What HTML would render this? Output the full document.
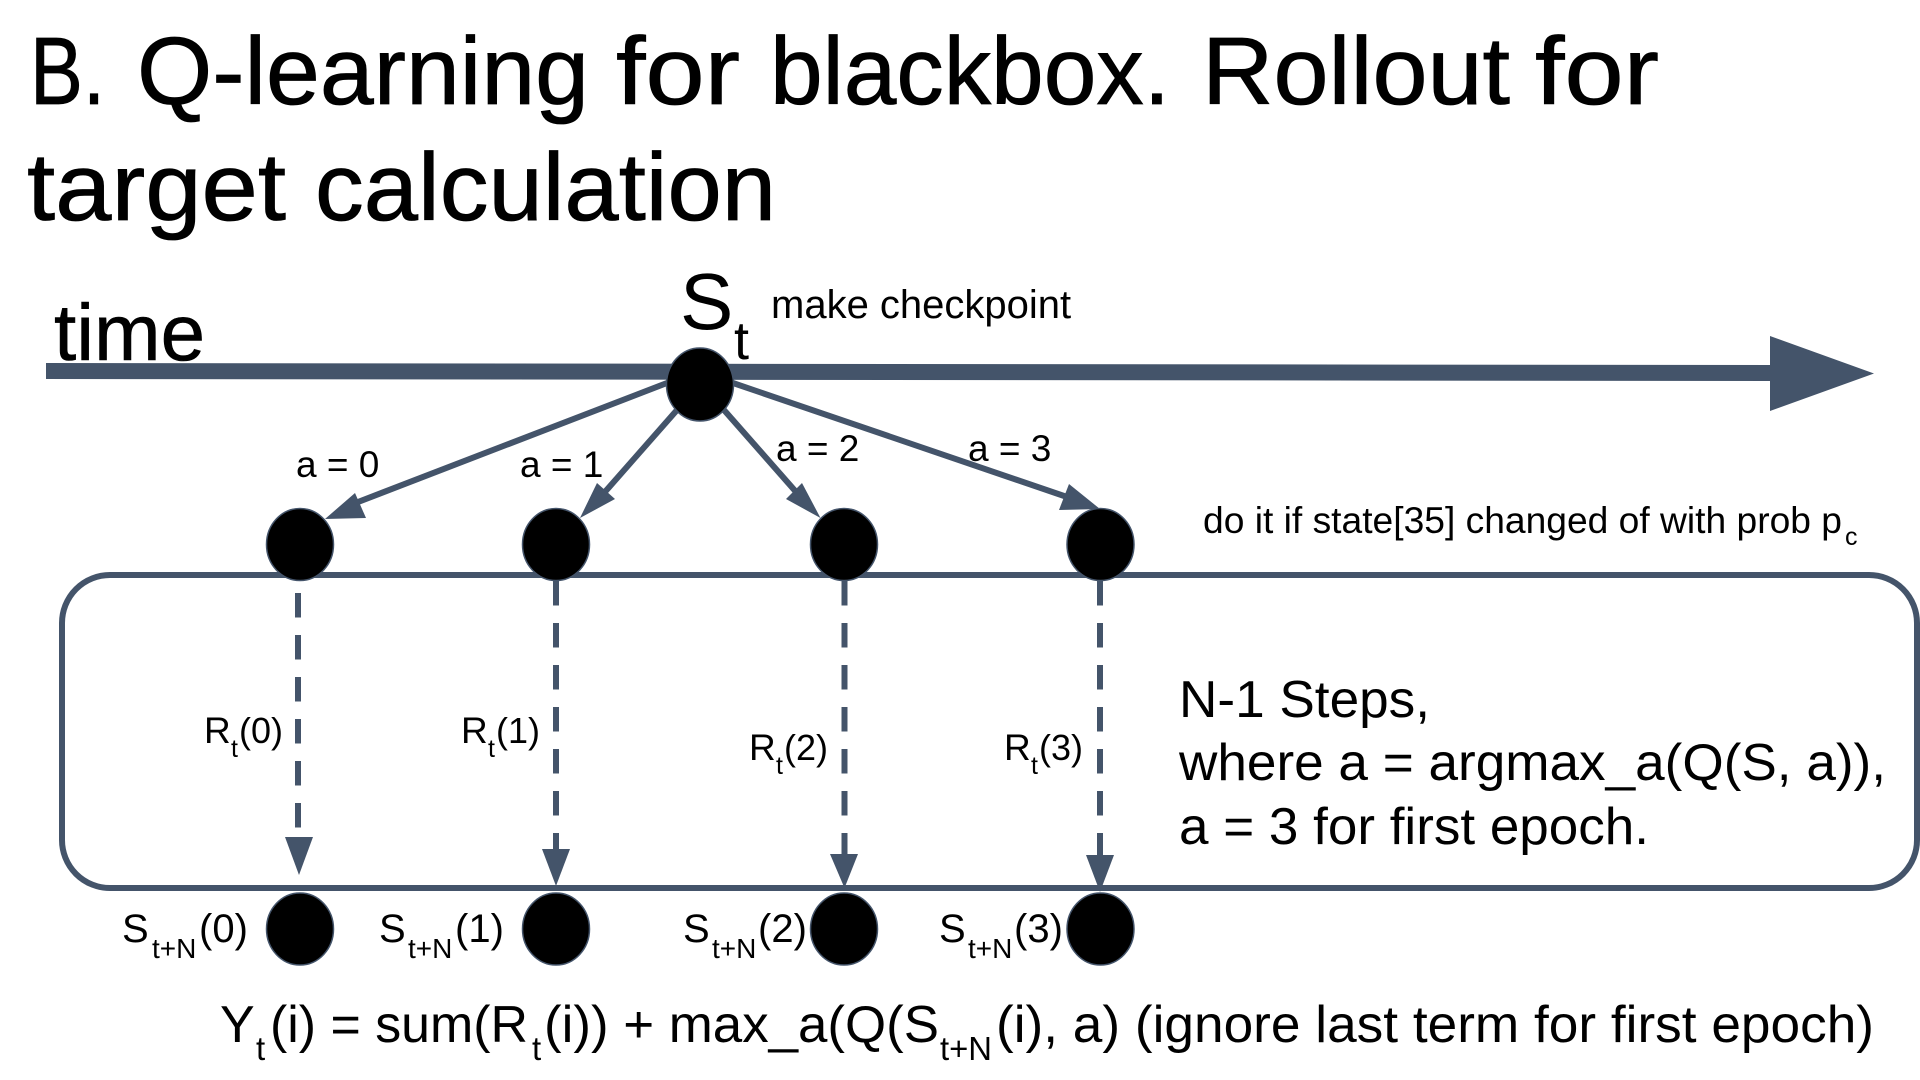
<!DOCTYPE html>
<html>
<head>
<meta charset="utf-8">
<style>
html,body{margin:0;padding:0;background:#fff;width:1920px;height:1080px;overflow:hidden}
svg{display:block}
text{font-family:"Liberation Sans",Arial,sans-serif;fill:#000}
.t{font-size:96px;stroke:#000;stroke-width:.8px}
.s36{font-size:37px}.s40{font-size:40px}.s52{font-size:52px}
.sub24{font-size:25px}.sub26{font-size:28px}.sub32{font-size:33px}
</style>
</head>
<body>
<svg width="1920" height="1080" viewBox="0 0 1920 1080" xmlns="http://www.w3.org/2000/svg">
<rect width="1920" height="1080" fill="#fff"/>

<!-- title -->
<text class="t" x="30" y="104" textLength="75" lengthAdjust="spacingAndGlyphs">B.</text>
<text class="t" x="137" y="104" textLength="452" lengthAdjust="spacingAndGlyphs">Q-learning</text>
<text class="t" x="616" y="104" textLength="124" lengthAdjust="spacingAndGlyphs">for</text>
<text class="t" x="770" y="104" textLength="400" lengthAdjust="spacingAndGlyphs">blackbox.</text>
<text class="t" x="1202" y="104" textLength="308" lengthAdjust="spacingAndGlyphs">Rollout</text>
<text class="t" x="1535" y="104" textLength="124" lengthAdjust="spacingAndGlyphs">for</text>
<text class="t" x="27" y="220" textLength="259" lengthAdjust="spacingAndGlyphs">target</text>
<text class="t" x="315" y="220" textLength="461" lengthAdjust="spacingAndGlyphs">calculation</text>

<!-- rounded box -->
<rect x="62" y="575" width="1855" height="313" rx="48" ry="48" fill="none" stroke="#44546a" stroke-width="6"/>

<!-- timeline -->
<polygon points="46,363 1770,365 1770,336 1874,373.5 1770,411 1770,381 46,379" fill="#44546a"/>

<!-- action arrows -->
<g stroke="#44546a" stroke-width="6" fill="none">
<line x1="667" y1="383" x2="345" y2="507"/>
<line x1="677" y1="410" x2="604" y2="493"/>
<line x1="724" y1="410" x2="797" y2="493"/>
<line x1="733" y1="383" x2="1070" y2="498"/>
</g>
<g fill="#44546a">
<polygon points="325,519 355,493 366,518"/>
<polygon points="580,518 597,483 615,499"/>
<polygon points="820.5,518 802,483 786,499"/>
<polygon points="1100,509 1069,484 1059,510"/>
</g>

<!-- dashed arrows -->
<g stroke="#44546a" stroke-width="6" fill="none" stroke-dasharray="24.5 17.5">
<line x1="298" y1="593" x2="298" y2="829"/>
<line x1="556" y1="581" x2="556" y2="852"/>
<line x1="844.5" y1="581" x2="844.5" y2="856"/>
<line x1="1100" y1="581" x2="1100" y2="857"/>
</g>
<g fill="#44546a">
<polygon points="285,837 313,837 299,875"/>
<polygon points="542,849 570,849 556,886"/>
<polygon points="830,854 858,854 844.5,888"/>
<polygon points="1086,855 1114,855 1100,892"/>
</g>

<!-- nodes -->
<g fill="#000" stroke="#44546a" stroke-width="1.5">
<ellipse cx="700" cy="384.5" rx="33.5" ry="36.5"/>
<ellipse cx="300" cy="544.5" rx="33.5" ry="36"/>
<ellipse cx="556" cy="544.5" rx="33.5" ry="36"/>
<ellipse cx="844" cy="544.5" rx="33.5" ry="36"/>
<ellipse cx="1100.5" cy="544.5" rx="33.5" ry="36"/>
<ellipse cx="300" cy="929" rx="33.5" ry="36"/>
<ellipse cx="556" cy="929" rx="33.5" ry="36"/>
<ellipse cx="844" cy="929" rx="33.5" ry="36"/>
<ellipse cx="1100.5" cy="929" rx="33.5" ry="36"/>
</g>

<!-- top labels -->
<text x="54" y="360" font-size="80" stroke="#000" stroke-width=".6">time</text>
<text x="680" y="329" font-size="80">S</text>
<text x="734" y="359" font-size="54">t</text>
<text x="771" y="318" class="s40">make checkpoint</text>

<text x="296" y="477" class="s36">a = 0</text>
<text x="520" y="477" class="s36">a = 1</text>
<text x="776" y="461" class="s36">a = 2</text>
<text x="968" y="461" class="s36">a = 3</text>

<text x="1203" y="533" font-size="37" textLength="639" lengthAdjust="spacingAndGlyphs">do it if state[35] changed of with prob p</text>
<text x="1845" y="545" class="sub24">c</text>

<!-- R labels -->
<text x="204" y="743" class="s36">R</text><text x="231" y="757" class="sub24">t</text><text x="239" y="743" font-size="36">(0)</text>
<text x="461" y="743" class="s36">R</text><text x="488" y="757" class="sub24">t</text><text x="496" y="743" font-size="36">(1)</text>
<text x="749" y="760" class="s36">R</text><text x="776" y="774" class="sub24">t</text><text x="784" y="760" font-size="36">(2)</text>
<text x="1004" y="760" class="s36">R</text><text x="1031" y="774" class="sub24">t</text><text x="1039" y="760" font-size="36">(3)</text>

<!-- note -->
<text x="1179" y="717" class="s52" textLength="251" lengthAdjust="spacingAndGlyphs">N-1 Steps,</text>
<text x="1179" y="780" class="s52" textLength="707" lengthAdjust="spacingAndGlyphs">where a = argmax_a(Q(S, a)),</text>
<text x="1179" y="844" class="s52" textLength="470" lengthAdjust="spacingAndGlyphs">a = 3 for first epoch.</text>

<!-- S labels -->
<text x="122" y="942" class="s40">S</text><text x="152" y="958" class="sub26">t+N</text><text x="199" y="942" class="s40">(0)</text>
<text x="379" y="942" class="s40">S</text><text x="408" y="958" class="sub26">t+N</text><text x="455" y="942" class="s40">(1)</text>
<text x="683" y="942" class="s40">S</text><text x="712" y="958" class="sub26">t+N</text><text x="758" y="942" class="s40">(2)</text>
<text x="939" y="942" class="s40">S</text><text x="968" y="958" class="sub26">t+N</text><text x="1014" y="942" class="s40">(3)</text>

<!-- formula -->
<text x="220" y="1042" class="s52">Y</text>
<text x="256" y="1060" class="sub32">t</text>
<text x="270" y="1042" class="s52" textLength="258" lengthAdjust="spacingAndGlyphs">(i) = sum(R</text>
<text x="532" y="1060" class="sub32">t</text>
<text x="544" y="1042" class="s52" textLength="395" lengthAdjust="spacingAndGlyphs">(i)) + max_a(Q(S</text>
<text x="940" y="1060" class="sub32" textLength="52" lengthAdjust="spacingAndGlyphs">t+N</text>
<text x="996" y="1042" class="s52" textLength="878" lengthAdjust="spacingAndGlyphs">(i), a) (ignore last term for first epoch)</text>
</svg>
</body>
</html>
